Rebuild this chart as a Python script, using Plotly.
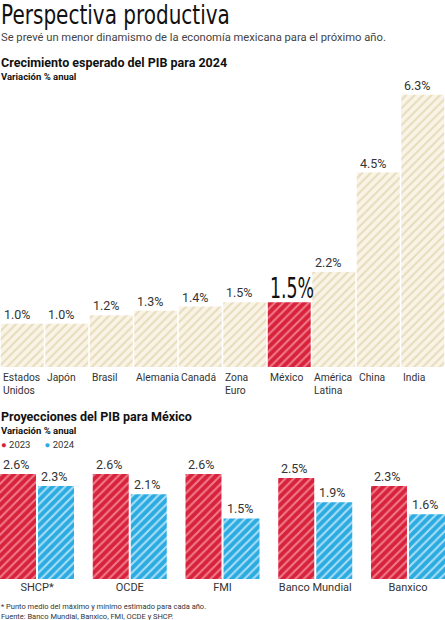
import plotly.graph_objects as go

# Crecimiento esperado del PIB para 2024
paises = ["Estados<br>Unidos", "Japón", "Brasil", "Alemania", "Canadá",
          "Zona<br>Euro", "México", "América<br>Latina", "China", "India"]
pib_2024 = [1.0, 1.0, 1.2, 1.3, 1.4, 1.5, 1.5, 2.2, 4.5, 6.3]

# Proyecciones del PIB para México
fuentes = ["SHCP*", "OCDE", "FMI", "Banco Mundial", "Banxico"]
mx_2023 = [2.6, 2.6, 2.6, 2.5, 2.3]
mx_2024 = [2.3, 2.1, 1.5, 1.9, 1.6]

BEIGE, BEIGE_FG = "#f9f4e6", "#e8dcbc"
RED, RED_FG = "#d7223b", "#f07a8b"
BLUE, BLUE_FG = "#2aabe2", "#a9def5"
TXT = "#333333"
FONT = "Roboto"
NARROW = "DejaVu Sans"

fig = go.Figure()

n = len(paises)
x_top = list(range(n))
# pattern bgcolor only takes one colour per trace, so México gets its own trace
for is_mx, c, cfg in [(False, BEIGE, BEIGE_FG), (True, RED, RED_FG)]:
    idx = [i for i, p in enumerate(paises) if (p == "México") == is_mx]
    fig.add_trace(go.Bar(
        x=[x_top[i] for i in idx], y=[pib_2024[i] for i in idx],
        width=0.965, offset=-0.4825, xaxis="x", yaxis="y",
        marker=dict(color=cfg, line_width=0,
                    pattern=dict(shape="/", bgcolor=c, size=6, solidity=0.35,
                                 fillmode="replace")),
        showlegend=False, hoverinfo="skip",
    ))

x_mx = list(range(len(fuentes)))
for vals, c, cfg, off in [(mx_2023, RED, RED_FG, -0.399), (mx_2024, BLUE, BLUE_FG, 0.011)]:
    fig.add_trace(go.Bar(
        x=x_mx, y=vals, width=0.388, offset=off, xaxis="x2", yaxis="y2",
        marker=dict(color=cfg, line_width=0,
                    pattern=dict(shape="/", bgcolor=c, size=6, solidity=0.35,
                                 fillmode="replace")),
        showlegend=False, hoverinfo="skip",
    ))

ann = []
# value and category labels, top chart
for i, (p, v) in enumerate(zip(paises, pib_2024)):
    big = p == "México"
    ann.append(dict(
        x=i - 0.483, y=v, xref="x", yref="y", xanchor="left", yanchor="bottom",
        text=f"{v:.1f}%", showarrow=False, xshift=0 if big else 1, yshift=-5 if big else 0,
        font=dict(family=NARROW if big else FONT, size=28 if big else 12.5,
                  color="#111111" if big else TXT),
    ))
    ann.append(dict(
        x=i - 0.483, y=0, xref="x", yref="y", xanchor="left", yanchor="top",
        text=p, showarrow=False, align="left", yshift=-2,
        font=dict(family=FONT, size=10.3, color=TXT),
    ))

# value labels, bottom chart
for vals, off in [(mx_2023, -0.399), (mx_2024, 0.011)]:
    for i, v in enumerate(vals):
        ann.append(dict(
            x=i + off, y=v, xref="x2", yref="y2", xanchor="left", yanchor="bottom",
            text=f"{v:.1f}%", showarrow=False, xshift=1,
            font=dict(family=FONT, size=12.5, color=TXT),
        ))

# titles and notes
def txt(t, y, size, family=FONT, color=TXT, bold=False):
    if bold:
        t = f"<b>{t}</b>"
    ann.append(dict(x=0, y=y, xref="paper", yref="paper", xanchor="left",
                    yanchor="middle", text=t, showarrow=False, xshift=-1,
                    font=dict(family=family, size=size, color=color)))

H = 620
txt("Perspectiva productiva", 1 - 15 / H, 26, NARROW, "#111111")
txt("Se prevé un menor dinamismo de la economía mexicana para el próximo año.",
    1 - 37 / H, 11.2, FONT, "#444444")
txt("Crecimiento esperado del PIB para 2024", 1 - 63 / H, 12.5, FONT, "#111111", True)
txt("Variación % anual", 1 - 77 / H, 9.5, FONT, "#111111", True)
txt("Proyecciones del PIB para México", 1 - 416 / H, 12.5, FONT, "#111111", True)
txt("Variación % anual", 1 - 430 / H, 9.5, FONT, "#111111", True)
txt(f"<span style='color:{RED}'>●</span> 2023      <span style='color:{BLUE}'>●</span> 2024",
    1 - 444 / H, 9.5, FONT, TXT)
txt("* Punto medio del máximo y mínimo estimado para cada año.", 1 - 606 / H, 7.5, FONT, TXT)
txt("Fuente: Banco Mundial, Banxico, FMI, OCDE y SHCP.", 1 - 616 / H, 7.5, FONT, TXT)

fig.update_layout(
    width=445, height=620, margin=dict(l=0, r=0, t=0, b=0),
    paper_bgcolor="white", plot_bgcolor="white",
    barmode="group", annotations=ann, showlegend=False,
    xaxis=dict(domain=[0, 1], range=[-0.5, n - 0.5], showticklabels=False,
               showgrid=False, zeroline=False, showline=False, ticks=""),
    yaxis=dict(domain=[1 - 367 / H, 1 - 60 / H], range=[0, 307 / 43.2],
               showticklabels=False, showgrid=False, zeroline=False),
    xaxis2=dict(domain=[0, 1], range=[-0.399, 4.399], anchor="y2",
                tickvals=x_mx, ticktext=fuentes, showgrid=False, zeroline=False,
                showline=False, ticks="", tickfont=dict(family=FONT, size=11, color=TXT)),
    yaxis2=dict(domain=[1 - 579 / H, 1 - 450 / H], range=[0, 129 / 40.4], anchor="x2",
                showticklabels=False, showgrid=False, zeroline=False),
)

# no condensed font is installed, so squeeze the two big DejaVu texts sideways
squeeze = """
document.body.style.margin = '0';
document.body.style.overflow = 'hidden';
document.querySelectorAll('text.annotation-text').forEach(function (t) {
  var s = parseFloat(t.style.fontSize);
  if (s >= 20) {
    var k = t.textContent === 'Perspectiva productiva' ? 0.77 : 0.62;
    t.style.transformBox = 'fill-box';
    t.style.transformOrigin = 'left center';
    t.style.transform = 'scaleX(' + k + ')';
  }
});
"""

fig.write_html("out.html", config={"displayModeBar": False}, post_script=squeeze)
